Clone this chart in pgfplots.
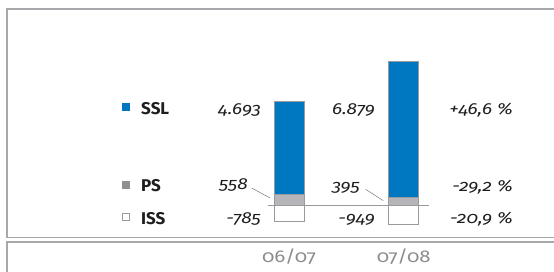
\documentclass[border=0pt]{standalone}
\usepackage{pgfplots}
\pgfplotsset{compat=1.18}
\usepackage{fontspec}
\setmainfont{Fira Sans}[Numbers=OldStyle]
\newfontfamily\widefont{Fira Sans}[Numbers=OldStyle, FakeStretch=1.2]
\definecolor{sslblue}{HTML}{0077C1}
\definecolor{psgray}{HTML}{B6B6BA}
\definecolor{psleg}{HTML}{8F8F93}
\definecolor{bord}{HTML}{9A9A9E}
\definecolor{frame}{HTML}{A8A8AC}
\definecolor{txt}{HTML}{1E1E1E}
\definecolor{cat}{HTML}{8C8C90}
\begin{document}
\begin{tikzpicture}
\useasboundingbox (0,0) rectangle (554pt,271pt);
% frames
\draw[frame, line width=1.2pt] (7pt,-10pt) -- (7pt,29pt) -- (570pt,29pt);
\draw[frame, line width=1.2pt] (570pt,262pt) -- (7pt,262pt) -- (7pt,33.5pt) -- (570pt,33.5pt);
\pgfplotsset{myax/.style={x=1pt, y=0.01977pt, xmin=0, xmax=554, ymin=-3313, ymax=10395,
  hide axis, anchor=origin, at={(0pt,65.5pt)}, clip=false, bar width=30pt}}
\begin{axis}[myax, ybar, bar shift=0pt]
\addplot[fill=white, draw=bord, line width=0.9pt] coordinates {(289,-785) (403.7,-949)};
\end{axis}
\begin{axis}[myax, ybar stacked]
\addplot[fill=psgray, draw=bord, line width=0.9pt] coordinates {(289,558) (403.7,395)};
\addplot[fill=sslblue, draw=bord, line width=0.9pt] coordinates {(289,4693) (403.7,6879)};
\draw[bord, line width=0.9pt] (axis cs:267.7,0) -- (axis cs:429,0);
\end{axis}
% leader lines
\draw[txt!70, line width=0.4pt] (251.7pt,83pt) -- (270pt,73pt);
\draw[txt!70, line width=0.4pt] (365.7pt,81.7pt) -- (383.3pt,70.3pt);
% legend
\fill[sslblue] (122pt,160pt) rectangle (130pt,168pt);
\fill[psleg] (122pt,82pt) rectangle (130pt,90pt);
\draw[bord, line width=0.8pt, fill=white] (122.4pt,50.7pt) rectangle (129.6pt,57.9pt);
\begin{scope}[every node/.style={inner sep=0pt, text=txt}]
\node[anchor=base west, font=\fontsize{17}{17}\selectfont\bfseries] at (141pt,156.7pt) {SSL};
\node[anchor=base west, font=\fontsize{17}{17}\selectfont\bfseries] at (141pt,79.3pt) {PS};
\node[anchor=base west, font=\fontsize{17}{17}\selectfont\bfseries] at (141pt,47pt) {ISS};
\tikzset{val/.style={anchor=base east, font=\widefont\fontsize{16}{16}\selectfont\itshape}}
\node[val] at (261pt,156.5pt) {4.693};
\node[val] at (375pt,156.5pt) {6.879};
\node[val] at (513pt,156.5pt) {+46,6 \%};
\node[val] at (248pt,81.5pt) {558};
\node[val] at (360pt,79.5pt) {395};
\node[val] at (513pt,79.5pt) {-29,2 \%};
\node[val] at (261pt,47.5pt) {-785};
\node[val] at (375pt,47.5pt) {-949};
\node[val] at (513pt,47.5pt) {-20,9 \%};
\node[anchor=base, font=\widefont\fontsize{17}{17}\selectfont, text=cat] at (289pt,9pt) {06/07};
\node[anchor=base, font=\widefont\fontsize{17}{17}\selectfont, text=cat] at (403.7pt,9pt) {07/08};
\end{scope}
\end{tikzpicture}
\end{document}
